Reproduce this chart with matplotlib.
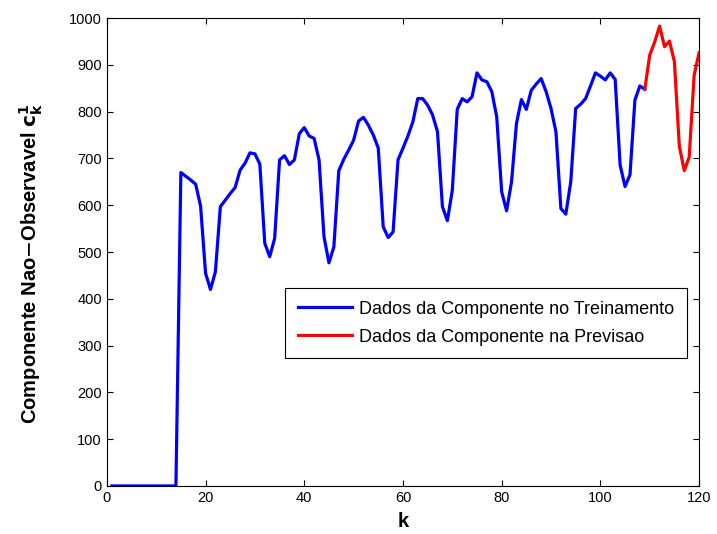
# Componente nao-observavel c_k^1: treinamento vs previsao

import matplotlib.pyplot as plt

plt.rcParams['font.family'] = ['Liberation Sans', 'DejaVu Sans']

# Data
k_train = list(range(1, 110))
c_train = [0] * 14 + [
    670, 662, 654, 645, 598, 455, 420, 458, 597, 611,
    625, 638, 675, 690, 712, 710, 688, 519, 490, 529,
    697, 706, 687, 697, 753, 766, 748, 743, 697, 533,
    477, 511, 674, 698, 718, 739, 780, 788, 771, 750,
    722, 554, 531, 543, 697, 722, 748, 778, 828, 828,
    814, 793, 757, 597, 567, 632, 805, 828, 821, 832,
    883, 868, 864, 843, 789, 629, 588, 650, 775, 826,
    805, 846, 859, 871, 843, 807, 757, 593, 581, 650,
    807, 816, 828, 855, 883, 876, 868, 883, 869, 686,
    640, 665, 825, 855, 848,
]
k_pred = list(range(109, 121))
c_pred = [848, 921, 949, 983, 939, 951, 907, 726, 674, 703, 878, 926]

fig = plt.figure(figsize=(7.17, 5.34), dpi=100)
ax = fig.add_axes([0.149, 0.09, 0.826, 0.876])

ax.plot(k_train, c_train, color='#0000ff', lw=2.3, label='Dados da Componente no Treinamento')
ax.plot(k_pred, c_pred, color='#ff0000', lw=2.3, label='Dados da Componente na Previsao')

ax.set_xlim(0, 120)
ax.set_ylim(0, 1000)
ax.set_xticks(range(0, 121, 20))
ax.set_yticks(range(0, 1001, 100))
ax.tick_params(direction='in', top=True, right=True, labelsize=10.5, length=4)

ax.set_xlabel('k', fontsize=14.5, fontweight='bold', labelpad=5)
ax.set_ylabel(r'Componente Nao$-$Observavel $\mathbf{c_k^1}$', fontsize=14.5,
              fontweight='bold')
ax.yaxis.set_label_coords(-0.105, 0.475)

leg = ax.legend(loc='upper right', bbox_to_anchor=(0.98, 0.423), fontsize=13,
                fancybox=False, edgecolor='black', framealpha=1, handlelength=3.0,
                handletextpad=0.4, labelspacing=0.6, borderpad=0.7, borderaxespad=0)
leg.get_frame().set_linewidth(0.8)

fig.savefig('out.png', dpi=100)
